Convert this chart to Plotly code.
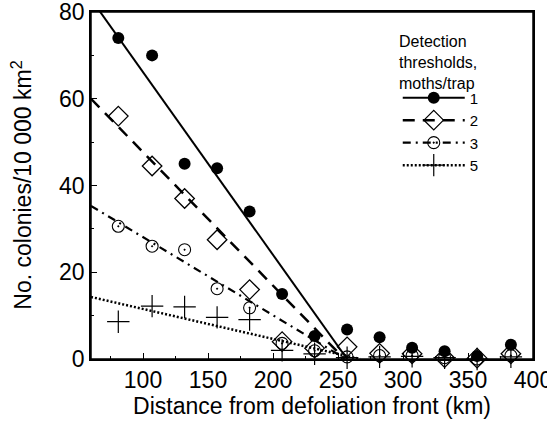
import plotly.graph_objects as go

# Distance from defoliation front (km)
distance = [81, 107, 132, 157, 182, 207, 232, 257, 282, 307, 332, 357, 383]

# No. colonies / 10 000 km2 per detection threshold (moths/trap)
thr1 = [74, 70, 45, 44, 34, 15, 5.3, 6.8, 5.0, 2.6, 1.8, 0.7, 3.3]
thr2 = [56, 44.5, 37, 27.5, 16, 4.0, 2.5, 2.8, 1.3, 1.2, 0.3, 0.2, 1.2]
thr3 = [30.6, 26, 25.2, 16.2, 11.8, 3.6, 1.9, 0.5, 0.8, 0.8, 0.3, 0.0, 0.8]
thr5 = [8.6, 12.2, 12, 9.6, 9.1, 2.0, 1.2, 0.3, 0.5, 0.6, 0.3, 0.0, 0.5]

# Fitted regression lines (start / end)
fit1_x = [60, 257]
fit1_y = [83, 0]
fit2_x = [60, 255]
fit2_y = [60, 0]
fit3_x = [60, 256]
fit3_y = [35.3, 0]
fit5_x = [60, 267]
fit5_y = [14.3, 0]

labels = ["1", "2", "3", "5"]
legend_title = "Detection<br>thresholds,<br>moths/trap"
y_title = "No. colonies/10 000 km<sup>2</sup>"

FONT = "Liberation Sans, Arial, Helvetica, sans-serif"

series = [
    (thr1, fit1_x, fit1_y, dict(symbol="circle", size=12, color="black"),
     dict(color="black", width=2, dash="solid")),
    (thr2, fit2_x, fit2_y,
     dict(symbol="diamond-open", size=15, color="black", line=dict(width=1.3, color="black")),
     dict(color="black", width=2.5, dash="12px,8px")),
    (thr3, fit3_x, fit3_y,
     dict(symbol="circle-open-dot", size=12, color="black", line=dict(width=1.1, color="black")),
     dict(color="black", width=2.2, dash="8px,5px,2px,5px")),
    (thr5, fit5_x, fit5_y,
     dict(symbol="cross-thin-open", size=16, color="black", line=dict(width=1.2, color="black")),
     dict(color="black", width=2.5, dash="2px,2px")),
]

fig = go.Figure()
for (vals, fx, fy, mk, ln), lab in zip(series, labels):
    fig.add_trace(go.Scatter(x=fx, y=fy, mode="lines", line=ln,
                             showlegend=False, hoverinfo="skip"))
    fig.add_trace(go.Scatter(x=distance, y=vals, mode="markers", marker=mk,
                             showlegend=False, cliponaxis=False))
    fig.add_trace(go.Scatter(x=[None], y=[None], mode="lines+markers",
                             marker=mk, line=ln, name=lab, showlegend=True))

axis_common = dict(
    showline=True, linecolor="black", linewidth=1.5, mirror=True,
    ticks="inside", ticklen=6, tickwidth=1.2, tickcolor="black",
    showgrid=False, zeroline=False, automargin=False,
    ticklabeloverflow="allow",
    tickfont=dict(family=FONT, size=23, color="black"),
)

fig.update_layout(
    width=547, height=427,
    margin=dict(l=91, r=14, t=12, b=68),
    paper_bgcolor="white", plot_bgcolor="white",
    font=dict(family=FONT, color="black"),
    xaxis=dict(range=[60, 400], tickvals=[100, 150, 200, 250, 300, 350, 400],
               minor=dict(tickvals=[75, 125, 175, 225, 275, 325, 375],
                          ticks="inside", ticklen=3, tickcolor="black", tickwidth=1),
               title=dict(text="Distance from defoliation front (km)",
                          font=dict(family=FONT, size=23), standoff=6),
               **axis_common),
    yaxis=dict(range=[0, 80], tickvals=[0, 20, 40, 60, 80],
               minor=dict(tickvals=[10, 30, 50, 70],
                          ticks="inside", ticklen=3, tickcolor="black", tickwidth=1),
               **axis_common),
    legend=dict(
        x=0.694, y=0.80, xanchor="left", yanchor="top",
        bgcolor="rgba(0,0,0,0)", borderwidth=0,
        font=dict(family=FONT, size=15),
        itemwidth=62, tracegroupgap=0,
    ),
    annotations=[
        dict(text=legend_title, xref="paper", yref="paper",
             x=0.692, y=0.945, xanchor="left", yanchor="top", align="left",
             showarrow=False, font=dict(family=FONT, size=16, color="black")),
        dict(text=y_title, xref="paper", yref="paper",
             x=-0.158, y=0.5, xanchor="center", yanchor="middle", textangle=-90,
             showarrow=False, font=dict(family=FONT, size=23, color="black")),
    ],
    shapes=[dict(type="rect", xref="paper", yref="paper", x0=0, x1=1, y0=0, y1=1,
                 line=dict(color="black", width=1.5), layer="above")],
)

fig.write_html(
    "out.html",
    config={"displayModeBar": False},
    post_script="document.body.style.margin='0px';document.body.style.overflow='hidden';",
)
